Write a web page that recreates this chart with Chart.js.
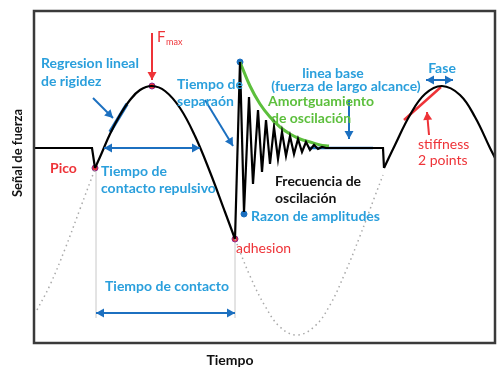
<!DOCTYPE html>
<html>
<head>
<meta charset="utf-8">
<script src="https://cdn.jsdelivr.net/npm/chart.js@4/dist/chart.umd.min.js"></script>
<style>
  body { margin: 0; background: #fff; }
  canvas { display: block; }
</style>
</head>
<body>
<canvas id="forceChart" width="502" height="382"></canvas>
<script>
// tiempo (t) / señal de fuerza (f), f = 0 es la linea base
var approachT = [0, 58, 61]
var approachF = [0, 0, -20]

var contactT = [61, 66, 76, 86, 96, 106, 118, 131, 146, 161, 176, 191, 201]
var contactF = [-20, -9, 14, 33, 48, 58, 62, 57, 40, 12, -24, -64, -91]

var ringT = [201, 206, 210, 215, 219, 224, 228, 232, 236, 240, 244, 248, 252, 256, 260, 264, 268, 272, 276, 280, 284, 288, 292, 349, 350]
var ringF = [-91, 86, -64, 51, -36, 38, -24, 28, -16, 21, -11, 16, -8, 12, -6, 9, -4, 6, -2, 3, -1, 1, 0, 0, -20]

var nextT = [350, 361, 376, 391, 408, 426, 441, 456, 461]
var nextF = [-20, 3, 33, 54, 62, 53, 31, 0, -10]

var ghostT1 = [3, 16, 31, 46, 61]
var ghostF1 = [-162, -137, -101, -61, -21]
var ghostT2 = [201, 216, 231, 246, 263, 281, 296, 311, 326, 341, 349]
var ghostF2 = [-91, -128, -158, -179, -187, -178, -157, -125, -88, -48, -27]

var envT = [206, 216, 226, 236, 246, 256, 266, 276, 286, 295]
var envF = [86, 62, 44, 31, 21, 14, 9, 6, 3, 2]

var baseT = [274, 339]
var baseF = [0, 0]

var slopeT = [76, 93]
var slopeF = [16, 44]
var stiffT = [370, 407]
var stiffF = [28, 61]

var redDotT = [61, 118, 201]
var redDotF = [-20, 62, -91]
var blueDotT = [206, 210]
var blueDotF = [86, -66]

var BLUE = '#2a9fdc'
var DARKBLUE = '#1c70c0'
var RED = '#ee3338'
var GREEN = '#5cbf3c'

function pts(ts, fs) {
    return ts.map(function (t, i) { return { x: t, y: fs[i] } })
}

function line(ts, fs, color, width, tension, dash) {
    return {
        type: 'line',
        data: pts(ts, fs),
        borderColor: color,
        borderWidth: width,
        borderDash: dash || [],
        tension: tension,
        pointRadius: 0,
        fill: false
    }
}

// flechas: [t1, f1, t2, f2, color, dobles]
var arrows = [
    [59, 50, 79, 30, DARKBLUE, false],
    [70, 0, 166, 0, DARKBLUE, true],
    [171, 48, 199, 2, DARKBLUE, false],
    [62, -165, 201, -165, DARKBLUE, true],
    [118, 115, 118, 68, RED, false],
    [315, 48, 315, 9, DARKBLUE, false],
    [392, 68, 419, 68, DARKBLUE, true],
    [395, 13, 393, 36, RED, false]
]

var guides = [
    [62, -22, 62, -170],
    [201, -91, 201, -170]
]

// textos: [texto, t, f, color, align, bold]
var notes = [
    ['Regresion lineal', 7, 85, BLUE, 'left', true],
    ['de rigidez', 7, 67, BLUE, 'left', true],
    ['Tiempo de', 143, 64, BLUE, 'left', true],
    ['separaón', 143, 47, BLUE, 'left', true],
    ['Pico', 16, -20, RED, 'left', true],
    ['Tiempo de', 67, -23, BLUE, 'left', true],
    ['contacto repulsivo', 67, -40, BLUE, 'left', true],
    ['linea base', 299, 75, BLUE, 'center', true],
    ['(fuerza de largo alcance)', 312, 62, BLUE, 'center', true],
    ['Amortguamiento', 234, 47, GREEN, 'left', true],
    ['de oscilación', 237, 30, GREEN, 'left', true],
    ['Fase', 408, 80, BLUE, 'center', true],
    ['stiffness', 384, 4, RED, 'left', false],
    ['2 points', 384, -12, RED, 'left', false],
    ['Frecuencia de', 241, -33, '#111', 'left', true],
    ['oscilación', 241, -50, '#111', 'left', true],
    ['Razon de amplitudes', 217, -68, BLUE, 'left', true],
    ['adhesion', 202, -100, RED, 'left', false],
    ['Tiempo de contacto', 71, -138, BLUE, 'left', true],
    ['Tiempo', 196, -212, '#111', 'center', true]
]

function arrowHead(ctx, x1, y1, x2, y2) {
    var a = Math.atan2(y2 - y1, x2 - x1)
    var L = 8, W = 4.5
    ctx.beginPath()
    ctx.moveTo(x2, y2)
    ctx.lineTo(x2 - L * Math.cos(a) + W * Math.sin(a), y2 - L * Math.sin(a) - W * Math.cos(a))
    ctx.lineTo(x2 - L * Math.cos(a) - W * Math.sin(a), y2 - L * Math.sin(a) + W * Math.cos(a))
    ctx.closePath()
    ctx.fill()
}

var decor = {
    id: 'decor',
    beforeDatasetsDraw: function (chart) {
        var ctx = chart.ctx, sx = chart.scales.x, sy = chart.scales.y
        ctx.save()
        ctx.strokeStyle = '#c8c8c8'
        ctx.lineWidth = 1
        guides.forEach(function (g) {
            ctx.beginPath()
            ctx.moveTo(sx.getPixelForValue(g[0]), sy.getPixelForValue(g[1]))
            ctx.lineTo(sx.getPixelForValue(g[2]), sy.getPixelForValue(g[3]))
            ctx.stroke()
        })
        ctx.restore()
    },
    afterDatasetsDraw: function (chart) {
        var ctx = chart.ctx, sx = chart.scales.x, sy = chart.scales.y
        var a = chart.chartArea
        ctx.save()
        ctx.strokeStyle = '#3a3a3a'
        ctx.lineWidth = 2.5
        ctx.strokeRect(a.left, a.top, a.right - a.left, a.bottom - a.top)

        arrows.forEach(function (r) {
            var x1 = sx.getPixelForValue(r[0]), y1 = sy.getPixelForValue(r[1])
            var x2 = sx.getPixelForValue(r[2]), y2 = sy.getPixelForValue(r[3])
            ctx.strokeStyle = r[4]
            ctx.fillStyle = r[4]
            ctx.lineWidth = 2
            ctx.beginPath()
            ctx.moveTo(x1, y1)
            ctx.lineTo(x2, y2)
            ctx.stroke()
            arrowHead(ctx, x1, y1, x2, y2)
            if (r[5]) arrowHead(ctx, x2, y2, x1, y1)
        })

        ctx.textBaseline = 'middle'
        notes.forEach(function (n) {
            ctx.font = (n[5] ? 'bold ' : '') + '14px Lato'
            ctx.fillStyle = n[3]
            ctx.textAlign = n[4]
            ctx.fillText(n[0], sx.getPixelForValue(n[1]), sy.getPixelForValue(n[2]))
        })

        // F max
        var fx = sx.getPixelForValue(123), fy = sy.getPixelForValue(111)
        ctx.fillStyle = RED
        ctx.textAlign = 'left'
        ctx.font = '15px Lato'
        ctx.fillText('F', fx, fy)
        ctx.font = '9px Lato'
        ctx.fillText('max', fx + 9, fy + 5)

        // eje vertical
        ctx.save()
        ctx.translate(sx.getPixelForValue(-16), sy.getPixelForValue(-5))
        ctx.rotate(-Math.PI / 2)
        ctx.textAlign = 'center'
        ctx.fillStyle = '#111'
        ctx.font = 'bold 13px Lato'
        ctx.fillText('Señal de fuerza', 0, 0)
        ctx.restore()
        ctx.restore()
    }
}

new Chart(document.getElementById('forceChart').getContext('2d'), {
    type: 'scatter',
    data: {
        datasets: [
            line(ghostT1, ghostF1, '#a9a9a9', 1.5, 0.4, [1.5, 3.5]),
            line(ghostT2, ghostF2, '#a9a9a9', 1.5, 0.4, [1.5, 3.5]),
            line(approachT, approachF, '#000', 2.2, 0),
            line(contactT, contactF, '#000', 2.2, 0.4),
            line(ringT, ringF, '#000', 2.2, 0),
            line(nextT, nextF, '#000', 2.2, 0.4),
            line(envT, envF, GREEN, 3, 0.4),
            line(baseT, baseF, DARKBLUE, 2.5, 0),
            line(slopeT, slopeF, DARKBLUE, 3.5, 0),
            line(stiffT, stiffF, RED, 2.5, 0),
            { data: pts(redDotT, redDotF), backgroundColor: RED, borderColor: '#8a2a8a', borderWidth: 1, pointRadius: 3 },
            { data: pts(blueDotT, blueDotF), backgroundColor: DARKBLUE, borderColor: DARKBLUE, pointRadius: 3 }
        ]
    },
    options: {
        responsive: false,
        animation: false,
        layout: { padding: { left: 34, right: 7, top: 11, bottom: 39 } },
        plugins: { legend: { display: false }, tooltip: { enabled: false } },
        scales: {
            x: { type: 'linear', display: false, min: 0, max: 461 },
            y: { type: 'linear', display: false, min: -195, max: 137 }
        }
    },
    plugins: [decor]
})
</script>
</body>
</html>
